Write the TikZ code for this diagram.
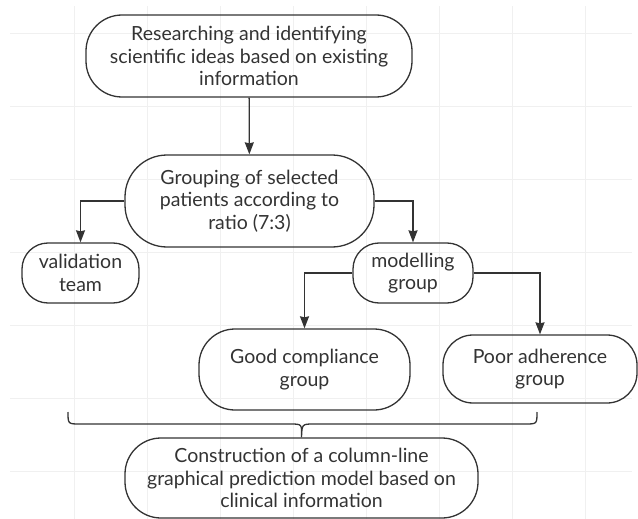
\documentclass[tikz,border=0pt]{standalone}
\usepackage{fontspec}
\setmainfont{Lato}
\usetikzlibrary{arrows.meta}
\definecolor{ink}{HTML}{333333}
\definecolor{gridgray}{HTML}{F0F0F0}
\tikzset{
  stepbox/.style={draw=ink,line width=1.3pt,rounded corners=36pt,align=center,
    text=ink,font=\fontsize{19.5}{22.5}\selectfont,inner sep=0pt},
  arr/.style={draw=ink,line width=1.3pt,-{Stealth[length=12pt,width=9pt,inset=1pt]}}
}
\begin{document}
\begin{tikzpicture}[x=1pt,y=-1pt]
\useasboundingbox (0,0) rectangle (638,519);
\foreach \gx in {74,147,...,600} \draw[gridgray,line width=0.8pt] (\gx,6) -- (\gx,519);
\foreach \gy in {33,106,...,519} \draw[gridgray,line width=0.8pt] (10,\gy) -- (632,\gy);
\node[stepbox,minimum width=326pt,minimum height=82pt] (ideas) at (249,56)
  {Researching and identifying\\scientific ideas based on existing\\information};
\node[stepbox,minimum width=249pt,minimum height=92pt,rounded corners=42pt] (grouping) at (249.5,201)
  {Grouping of selected\\patients according to\\ratio (7:3)};
\node[stepbox,minimum width=117pt,minimum height=60pt,rounded corners=26pt] (valid) at (80.5,273)
  {validation\\team};
\node[stepbox,minimum width=120pt,minimum height=60pt,rounded corners=26pt] (model) at (413,273)
  {modelling\\group};
\node[stepbox,minimum width=211pt,minimum height=81pt] (good) at (304.5,369.5)
  {Good compliance\\group};
\node[stepbox,minimum width=194pt,minimum height=68pt,rounded corners=30pt] (poor) at (540,369)
  {Poor adherence\\group};
\node[stepbox,minimum width=353pt,minimum height=80pt] (model2) at (301.5,478)
  {Construction of a column-line\\graphical prediction model based on\\clinical information};
\draw[arr] (ideas) -- (grouping);
\draw[arr] (grouping.west) -| (valid.north);
\draw[arr] (grouping.east) -| (model.north);
\draw[arr] (model.west) -| (good.north);
\draw[arr] (model.east) -| (poor.north);
\coordinate (bl) at (68,412);
\coordinate (br) at (537,412);
\draw[ink,line width=1.3pt] (bl) .. controls (68,424) .. (80,424) -- (290,424)
  .. controls (302,424) .. (model2.north) .. controls (302,424) .. (314,424)
  -- (525,424) .. controls (537,424) .. (br);
\end{tikzpicture}
\end{document}
